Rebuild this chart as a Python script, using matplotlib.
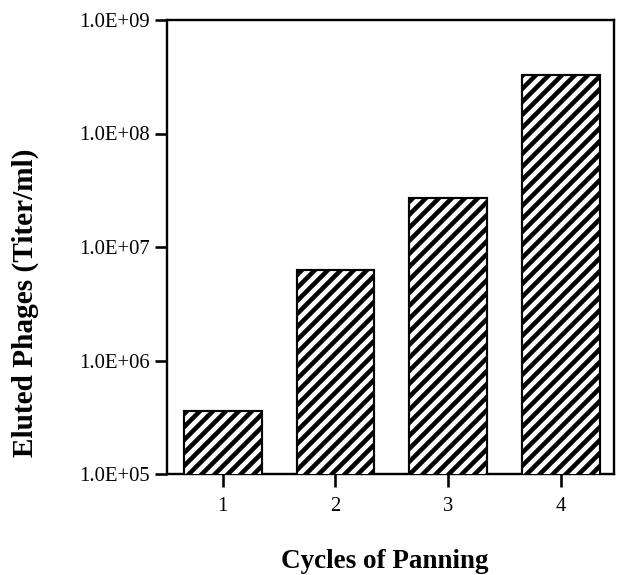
import matplotlib
matplotlib.use("Agg")
import matplotlib.pyplot as plt
from matplotlib.ticker import FixedLocator, NullLocator

# data
cycles = [1, 2, 3, 4]
titers = [3.6e5, 6.3e6, 2.7e7, 3.3e8]
ytick_values = [1e5, 1e6, 1e7, 1e8, 1e9]
ytick_labels = ["1.0E+05", "1.0E+06", "1.0E+07", "1.0E+08", "1.0E+09"]
xtick_labels = ["1", "2", "3", "4"]

DPI = 78
plt.rcParams["font.family"] = ["Liberation Serif", "DejaVu Serif"]
plt.rcParams["hatch.linewidth"] = 4.2
plt.rcParams["hatch.color"] = "black"

fig = plt.figure(figsize=(617 / DPI, 575 / DPI), dpi=DPI)
L, R, B, T = 167, 614, 474, 20
ax = fig.add_axes([L / 617, 1 - B / 575, (R - L) / 617, (B - T) / 575])

ax.bar(cycles, titers, width=0.69, bottom=0, color="white",
       edgecolor="black", linewidth=2.0, hatch="//", zorder=3)

ax.set_yscale("log")
ax.set_ylim(1e5, 1e9)
ax.set_xlim(0.506, 4.47)

ax.yaxis.set_major_locator(FixedLocator(ytick_values))
ax.set_yticklabels(ytick_labels)
ax.yaxis.set_minor_locator(NullLocator())
ax.set_xticks(cycles)
ax.set_xticklabels(xtick_labels)

ax.tick_params(axis="y", direction="out", length=11, width=2.4, pad=5,
               labelsize=19, colors="black")
ax.tick_params(axis="x", direction="out", length=12, width=2.4, pad=9,
               labelsize=19, colors="black")

for s in ax.spines.values():
    s.set_linewidth(2.2)
    s.set_color("black")

ax.set_ylabel("Eluted Phages (Titer/ml)", fontsize=27, fontweight="bold",
              va="center")
ax.yaxis.set_label_coords((25 - L) / (R - L), (B - 303) / (B - T))
ax.set_xlabel("Cycles of Panning", fontsize=25, fontweight="bold",
              va="center")
ax.xaxis.set_label_coords((385 - L) / (R - L), (B - 562) / (B - T))

fig.savefig("out.png", dpi=DPI)
